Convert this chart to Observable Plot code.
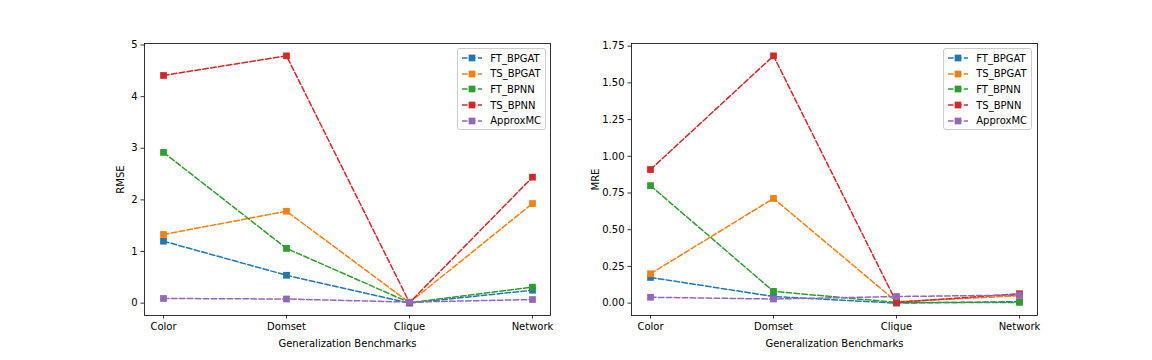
<!DOCTYPE html>
<html><head><meta charset="utf-8">
<script src="https://cdn.jsdelivr.net/npm/d3@7"></script>
<script src="https://cdn.jsdelivr.net/npm/@observablehq/plot@0.6"></script>
<style>
body{margin:0;background:#fff;}
#fig{position:relative;width:1152px;height:360px;font-family:"DejaVu Sans";background:#fff;overflow:hidden;}
.panel{position:absolute;top:0;}
.legend{position:absolute;top:48px;background:rgba(255,255,255,0.8);border:1px solid #cccccc;border-radius:3px;padding:1.5px 4px 1px 4px;font-size:10px;color:#000;}
.row{display:flex;align-items:center;height:15.6px;white-space:nowrap;}
.row svg{margin-right:8px;display:block;}
</style></head><body><div id="fig"></div>
<script>
const categories = ["Color", "Domset", "Clique", "Network"];
const seriesNames = ["FT_BPGAT", "TS_BPGAT", "FT_BPNN", "TS_BPNN", "ApproxMC"];
const seriesColors = ["#1f77b4", "#ff7f0e", "#2ca02c", "#d62728", "#9467bd"];

// RMSE panel
const rmseFT_BPGAT = [1.20, 0.54, 0.00, 0.25];
const rmseTS_BPGAT = [1.33, 1.78, 0.01, 1.93];
const rmseFT_BPNN  = [2.92, 1.06, 0.01, 0.31];
const rmseTS_BPNN  = [4.41, 4.79, 0.01, 2.44];
const rmseApproxMC = [0.09, 0.08, 0.02, 0.07];
const rmseTicks = [0, 1, 2, 3, 4, 5];

// MRE panel
const mreFT_BPGAT = [0.175, 0.045, 0.000, 0.010];
const mreTS_BPGAT = [0.200, 0.713, 0.010, 0.050];
const mreFT_BPNN  = [0.800, 0.080, 0.005, 0.005];
const mreTS_BPNN  = [0.910, 1.684, 0.005, 0.064];
const mreApproxMC = [0.040, 0.028, 0.045, 0.055];
const mreTicks = [0, 0.25, 0.5, 0.75, 1.0, 1.25, 1.5, 1.75];

const xLabel = "Generalization Benchmarks";
const W = 1152, H = 360;

function makePanel(values, opts) {
  const rows = [];
  seriesNames.forEach((s, i) => values[i].forEach((v, j) => rows.push({series: s, cat: categories[j], value: v})));
  const [lo, hi] = d3.extent(rows, d => d.value);
  const pad = (hi - lo) * 0.05;
  const marks = [];
  seriesNames.forEach((s) => {
    const d = rows.filter(r => r.series === s);
    marks.push(Plot.line(d, {x: "cat", y: "value", stroke: "series", strokeWidth: 1.5, strokeDasharray: "5.55,2.4"}));
    marks.push(Plot.dot(d, {x: "cat", y: "value", symbol: "square", r: 3.8, fill: "series"}));
  });
  const chart = Plot.plot({
    width: 576, height: H,
    marginTop: 43, marginBottom: 45, marginLeft: opts.mL, marginRight: opts.mR,
    style: {fontFamily: "DejaVu Sans", fontSize: "10px", color: "black", background: "transparent", overflow: "visible"},
    x: {type: "point", domain: categories, padding: 0.15},
    y: {domain: [lo - pad, hi + pad]},
    color: {domain: seriesNames, range: seriesColors},
    marks: [
      ...marks,
      Plot.axisX({tickSize: 3.5, tickPadding: 3.5, strokeWidth: 0.8, label: xLabel, labelAnchor: "center", labelOffset: 31, labelArrow: "none"}),
      Plot.axisY({ticks: opts.ticks, tickFormat: opts.fmt, tickSize: 3.5, tickPadding: 3.5, strokeWidth: 0.8, label: opts.yLabel, labelAnchor: "center", labelOffset: opts.lo, labelArrow: "none"}),
      Plot.frame({stroke: "black", strokeWidth: 0.8})
    ]
  });
  chart.classList.add("panel");
  chart.style.left = opts.left + "px";
  return chart;
}

function makeLegend(rightPx) {
  const lg = d3.create("div").attr("class", "legend").style("right", rightPx + "px");
  seriesNames.forEach((s, i) => {
    const row = lg.append("div").attr("class", "row");
    const sv = row.append("svg").attr("width", 20).attr("height", 10);
    sv.append("line").attr("x1", 0).attr("x2", 20).attr("y1", 5).attr("y2", 5)
      .attr("stroke", seriesColors[i]).attr("stroke-width", 1.5).attr("stroke-dasharray", "5.55,2.4");
    sv.append("rect").attr("x", 10 - 3.35).attr("y", 5 - 3.35).attr("width", 6.7).attr("height", 6.7).attr("fill", seriesColors[i]);
    row.append("span").text(s);
  });
  return lg.node();
}

const fig = document.getElementById("fig");
fig.appendChild(makePanel([rmseFT_BPGAT, rmseTS_BPGAT, rmseFT_BPNN, rmseTS_BPNN, rmseApproxMC],
  {left: 0, mL: 144, mR: 26, ticks: rmseTicks, fmt: d3.format("d"), yLabel: "RMSE", lo: 28}));
fig.appendChild(makePanel([mreFT_BPGAT, mreTS_BPGAT, mreFT_BPNN, mreTS_BPNN, mreApproxMC],
  {left: 576, mL: 55, mR: 115, ticks: mreTicks, fmt: d3.format(".2f"), yLabel: "MRE", lo: 40}));
fig.appendChild(makeLegend(W - 546));
fig.appendChild(makeLegend(W - 1032));
</script></body></html>
